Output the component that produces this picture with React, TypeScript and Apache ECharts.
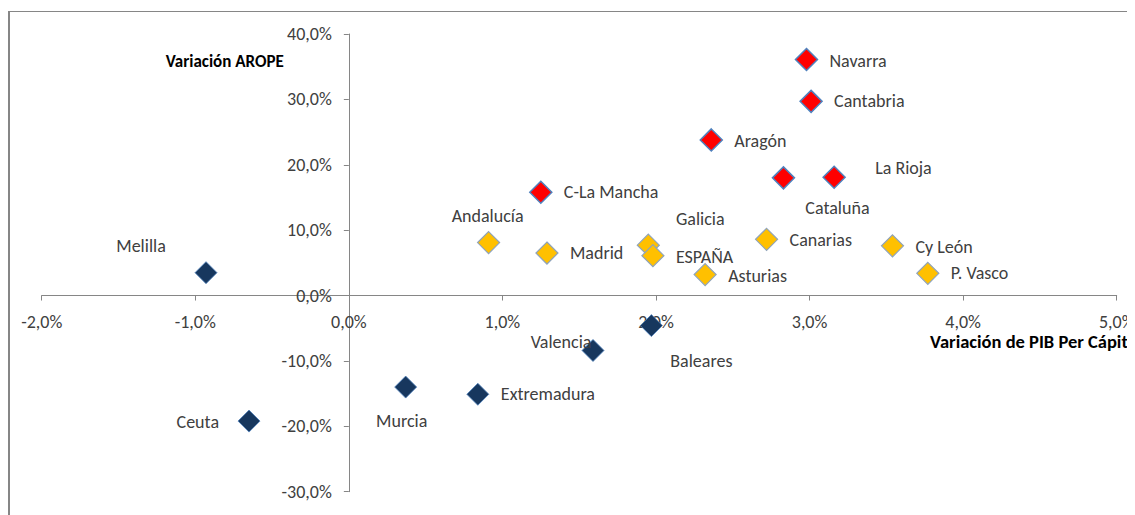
import React, { useEffect, useRef } from "react";
import * as echarts from "echarts";

// Variación PIB per cápita (%) and Variación AROPE (%)
const redNames = ["Navarra", "Cantabria", "Aragón", "C-La Mancha", "Cataluña", "La Rioja"];
const redX = [2.98, 3.01, 2.36, 1.25, 2.83, 3.16];
const redY = [36.1, 29.7, 23.8, 15.8, 18.0, 18.1];

const yellowNames = ["Andalucía", "Madrid", "Galicia", "ESPAÑA", "Asturias", "Canarias", "Cy León", "P. Vasco"];
const yellowX = [0.91, 1.29, 1.95, 1.98, 2.32, 2.72, 3.54, 3.77];
const yellowY = [8.1, 6.5, 7.7, 6.1, 3.2, 8.6, 7.6, 3.4];

const navyNames = ["Melilla", "Ceuta", "Murcia", "Extremadura", "Valencia", "Baleares"];
const navyX = [-0.93, -0.65, 0.37, 0.84, 1.59, 1.97];
const navyY = [3.5, -19.2, -14.0, -15.1, -8.4, -4.6];

const xTicks = { min: -2, max: 5, step: 1 };
const yTicks = { min: -30, max: 40, step: 10 };

const FONT = "Carlito, Calibri, Lato, sans-serif";
const TEXT = "#404040";
const AXIS = "#868686";

const W = 1127;
const H = 507;
const GRID = { left: 33.7, right: 18.3, top: 26, bottom: 23.3 };

// label placement (layout only)
const labelPlacement: Record<string, { align: string; offset: [number, number] }> = {
  Navarra: { align: "left", offset: [23, 1] },
  Cantabria: { align: "left", offset: [23, 0] },
  "Aragón": { align: "left", offset: [23, 1] },
  "C-La Mancha": { align: "left", offset: [23, 0] },
  "Cataluña": { align: "center", offset: [54, 30] },
  "La Rioja": { align: "left", offset: [41, -9] },
  "Andalucía": { align: "center", offset: [-1, -27] },
  Madrid: { align: "left", offset: [23, 0] },
  Galicia: { align: "center", offset: [52, -26] },
  "ESPAÑA": { align: "left", offset: [23, 1] },
  Asturias: { align: "left", offset: [23, 1] },
  Canarias: { align: "left", offset: [23, 1] },
  "Cy León": { align: "left", offset: [23, 1] },
  "P. Vasco": { align: "left", offset: [23, 0] },
  Melilla: { align: "center", offset: [-65, -27] },
  Ceuta: { align: "right", offset: [-30, 1] },
  Murcia: { align: "center", offset: [-4, 34] },
  Extremadura: { align: "left", offset: [23, 0] },
  Valencia: { align: "center", offset: [-32, -8] },
  Baleares: { align: "center", offset: [50, 35] },
};

const pct = (v: number) => v.toFixed(1).replace(".", ",") + "%";

function buildData(names: string[], xs: number[], ys: number[]) {
  return names.map((n, i) => {
    const p = labelPlacement[n];
    return {
      name: n,
      value: [xs[i], ys[i]],
      label: {
        show: true,
        position: "inside",
        align: p.align,
        verticalAlign: "middle",
        offset: p.offset,
        formatter: "{b}",
        color: TEXT,
        fontSize: 18,
        fontFamily: FONT,
      },
    };
  });
}

export default function App() {
  const ref = useRef<HTMLDivElement>(null);
  useEffect(() => {
    if (!ref.current) return;
    const chart = echarts.init(ref.current, undefined, { renderer: "svg" });
    const gw = W - GRID.left - GRID.right;
    const gh = H - GRID.top - GRID.bottom;
    // distance from the grid's bottom/left edge to the zero lines
    const xAxisOffset = -(gh * (0 - yTicks.min)) / (yTicks.max - yTicks.min);
    const yAxisOffset = -(gw * (0 - xTicks.min)) / (xTicks.max - xTicks.min);
    const axisCommon = {
      type: "value",
      splitLine: { show: false },
      axisLine: { show: true, onZero: false, lineStyle: { color: AXIS, width: 1 } },
      axisTick: { show: true, length: 5, lineStyle: { color: AXIS } },
    };
    chart.setOption({
      animation: false,
      backgroundColor: "#ffffff",
      grid: { ...GRID, containLabel: false, outerBoundsMode: "none" },
      xAxis: {
        ...axisCommon,
        position: "bottom",
        offset: xAxisOffset,
        min: xTicks.min,
        max: xTicks.max,
        interval: xTicks.step,
        axisLabel: { formatter: pct, margin: 17, fontSize: 18, color: TEXT, fontFamily: FONT },
      },
      yAxis: {
        ...axisCommon,
        position: "left",
        offset: yAxisOffset,
        min: yTicks.min,
        max: yTicks.max,
        interval: yTicks.step,
        axisLabel: { formatter: pct, margin: 17, fontSize: 18, color: TEXT, fontFamily: FONT },
      },
      graphic: [
        { type: "line", shape: { x1: 0, y1: 3.5, x2: 1200, y2: 3.5 }, style: { stroke: AXIS, lineWidth: 1 } },
        { type: "line", shape: { x1: 1, y1: 3, x2: 1, y2: 700 }, style: { stroke: AXIS, lineWidth: 2 } },
        {
          type: "text",
          x: 157.7,
          y: 53.7,
          style: {
            text: "Variación AROPE",
            fill: "#000000",
            font: `bold 17px ${FONT}`,
            textAlign: "left",
            textVerticalAlign: "middle",
            align: "left",
            verticalAlign: "middle",
          },
        },
        {
          type: "text",
          x: 922,
          y: 333.7,
          style: {
            text: "Variación de PIB Per Cápita",
            fill: "#000000",
            font: `bold 18.5px ${FONT}`,
            textAlign: "left",
            textVerticalAlign: "middle",
            align: "left",
            verticalAlign: "middle",
          },
        },
      ],
      series: [
        {
          type: "scatter",
          symbol: "diamond",
          symbolSize: 22,
          itemStyle: { color: "#FF0000", borderColor: "#4F81BD", borderWidth: 1.5, opacity: 1 },
          data: buildData(redNames, redX, redY),
        },
        {
          type: "scatter",
          symbol: "diamond",
          symbolSize: 22,
          itemStyle: { color: "#FFC000", borderColor: "#8FA3BA", borderWidth: 1.2, opacity: 1 },
          data: buildData(yellowNames, yellowX, yellowY),
        },
        {
          type: "scatter",
          symbol: "diamond",
          symbolSize: 22,
          itemStyle: { color: "#17375E", borderColor: "#4F81BD", borderWidth: 0.8, opacity: 1 },
          data: buildData(navyNames, navyX, navyY),
        },
      ],
    });
    return () => chart.dispose();
  }, []);
  return <div ref={ref} style={{ width: W, height: H }} />;
}
